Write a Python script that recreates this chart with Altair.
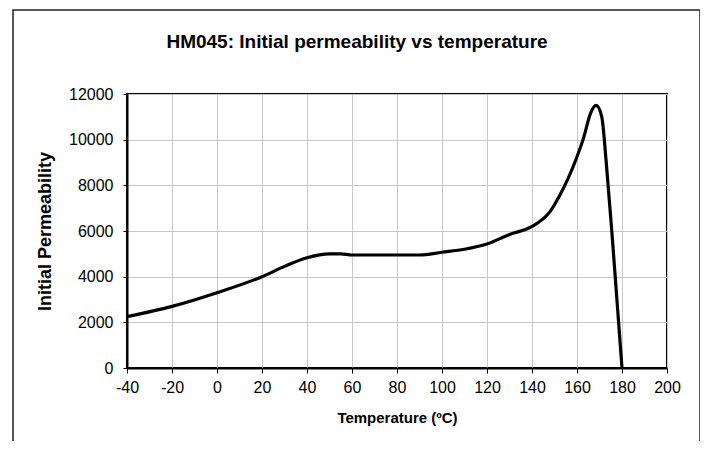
import altair as alt
import pandas as pd

temperature = [-40, -20, 0, 20, 30, 40, 50, 55, 60, 70, 80, 90, 100, 110, 120, 130, 140,
               148, 152, 160, 163, 166, 168.5, 171, 173, 176, 180]
permeability = [2250, 2700, 3300, 4000, 4450, 4830, 5000, 5000, 4950, 4950, 4950, 4950, 5070,
                5200, 5430, 5850, 6200, 6850, 7500, 9250, 10100, 11150, 11500, 11000, 9000, 5300, 0]

x_ticks = list(range(-40, 201, 20))
y_ticks = list(range(0, 12001, 2000))
title_text = ["HM045: Initial permeability vs temperature"]

df = pd.DataFrame({"T": temperature, "P": permeability})
title_df = pd.DataFrame({"t": title_text})

FONT = "Liberation Sans"

line = alt.Chart(df).mark_line(color="black", strokeWidth=3.2, interpolate="monotone").encode(
    x=alt.X("T:Q", scale=alt.Scale(domain=[-40, 200], nice=False),
            axis=alt.Axis(values=x_ticks, title="Temperature (ºC)", grid=True,
                          labelExpr="datum.value + ''",
                          gridColor="#c8c8c8", gridWidth=1, domainColor="black", domainWidth=2,
                          tickColor="black", tickSize=5, tickWidth=1, labelFont=FONT,
                          labelFontSize=16, labelColor="black", labelPadding=6,
                          titleFont=FONT, titleFontSize=15, titleFontWeight="bold",
                          titleColor="black", titlePadding=15, labelFlush=False)),
    y=alt.Y("P:Q", scale=alt.Scale(domain=[0, 12000], nice=False),
            axis=alt.Axis(values=y_ticks, title="Initial Permeability", grid=True,
                          labelExpr="datum.value + ''",
                          gridColor="#c8c8c8", gridWidth=1, domainColor="black", domainWidth=2,
                          tickColor="black", tickSize=4, tickWidth=1, labelFont=FONT,
                          labelFontSize=16, labelColor="black", labelPadding=10,
                          titleFont=FONT, titleFontSize=18, titleFontWeight="bold",
                          titleColor="black", titlePadding=14, labelFlush=False)),
)

frame = alt.Chart(title_df).mark_rect(fill=None, stroke="#222222", strokeWidth=1.5).encode(
    x=alt.value(-114), x2=alt.value(573), y=alt.value(-84), y2=alt.value(380)
)

title = alt.Chart(title_df).mark_text(
    font=FONT, fontSize=19, fontWeight="bold", color="black", align="center", baseline="middle"
).encode(text="t:N", x=alt.value(230), y=alt.value(-52))

chart = alt.layer(frame, line, title).properties(
    width=540,
    height=274,
    autosize=alt.AutoSizeParams(type="none"),
    padding={"left": 119, "top": 86, "right": 33, "bottom": 73},
).configure_view(stroke="black", strokeWidth=2)

chart.save("out.html", embed_options={"renderer": "svg", "actions": False})
